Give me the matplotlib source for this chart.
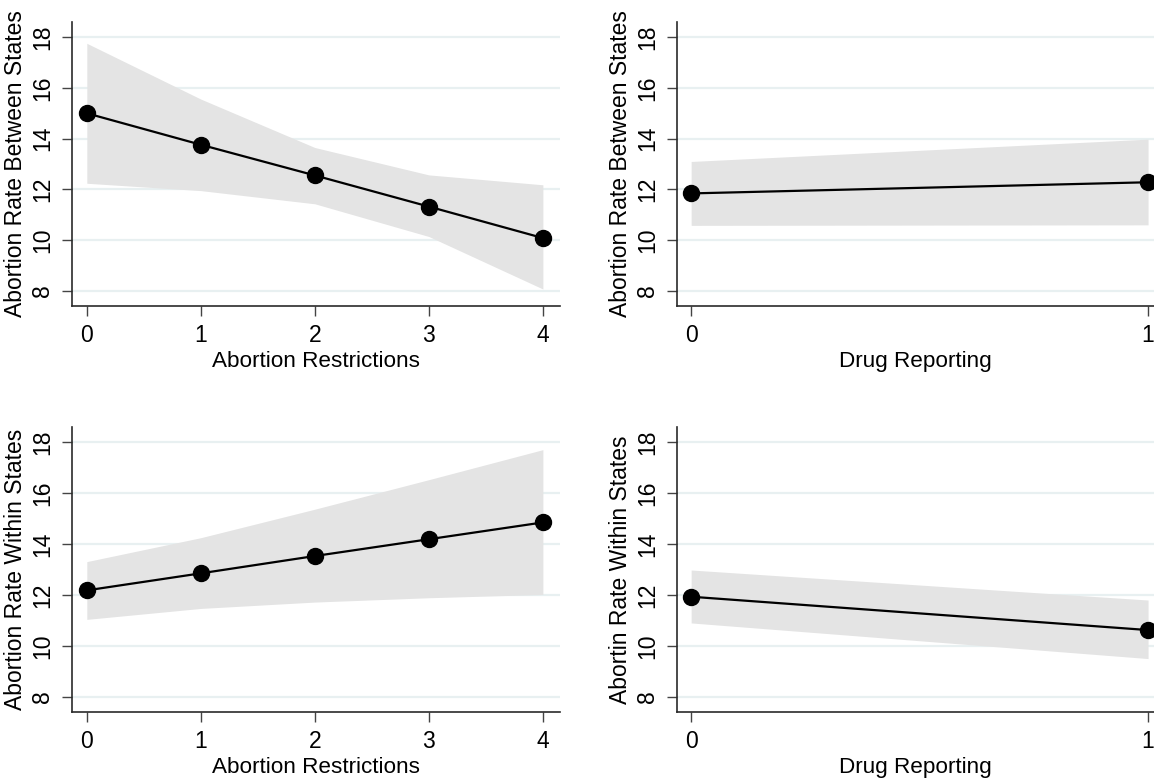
import matplotlib
matplotlib.use("Agg")
import matplotlib.pyplot as plt

plt.rcParams['font.family'] = ['Liberation Sans', 'DejaVu Sans']

# ---- data ----
restr_x = [0, 1, 2, 3, 4]
drug_x = [0, 1]

between_restr = [15.0, 13.76, 12.55, 11.32, 10.08]
between_restr_hi = [17.76, 15.56, 13.65, 12.57, 12.18]
between_restr_lo = [12.24, 11.95, 11.43, 10.14, 8.07]

between_drug = [11.84, 12.28]
between_drug_hi = [13.10, 13.98]
between_drug_lo = [10.58, 10.60]

within_restr = [12.18, 12.85, 13.53, 14.19, 14.85]
within_restr_hi = [13.31, 14.25, 15.37, 16.53, 17.71]
within_restr_lo = [11.04, 11.47, 11.72, 11.89, 12.02]

within_drug = [11.93, 10.62]
within_drug_hi = [12.98, 11.80]
within_drug_lo = [10.90, 9.50]

y_ticks = [8, 10, 12, 14, 16, 18]
x_label_restr = "Abortion Restrictions"
x_label_drug = "Drug Reporting"
y_label_between = "Abortion Rate Between States"
y_label_within = "Abortion Rate Within States"
y_label_within_drug = "Abortin Rate Within States"

W, H = 1154, 780
fig = plt.figure(figsize=(W / 100, H / 100), dpi=100)

def px_axes(left, top, right, bottom):
    return fig.add_axes([left / W, 1 - bottom / H, (right - left) / W, (bottom - top) / H])

panels = [
    (px_axes(72, 22, 560, 306), restr_x, between_restr, between_restr_lo, between_restr_hi,
     x_label_restr, y_label_between, (-0.13, 4.15)),
    (px_axes(677, 22, 1154, 306), drug_x, between_drug, between_drug_lo, between_drug_hi,
     x_label_drug, y_label_between, (-0.031, 1.013)),
    (px_axes(72, 427, 560, 712), restr_x, within_restr, within_restr_lo, within_restr_hi,
     x_label_restr, y_label_within, (-0.13, 4.15)),
    (px_axes(677, 427, 1154, 712), drug_x, within_drug, within_drug_lo, within_drug_hi,
     x_label_drug, y_label_within_drug, (-0.031, 1.013)),
]

grid_col = '#e8f0f1'
fill_col = '#e4e4e4'
axis_col = '#2a2a2a'

for ax, xs, ys, lo, hi, xl, yl, xlim in panels:
    for t in y_ticks:
        ax.axhline(t, color=grid_col, lw=1.6, zorder=0)
    ax.fill_between(xs, lo, hi, color=fill_col, lw=0, zorder=1)
    ax.plot(xs, ys, color='black', lw=1.6, marker='o', markersize=11.5,
            markerfacecolor='black', markeredgecolor='black', zorder=3)
    ax.set_xlim(*xlim)
    ax.set_ylim(7.4, 18.6)
    ax.set_xticks(xs)
    ax.set_yticks(y_ticks)
    ax.set_yticklabels([str(t) for t in y_ticks], rotation=90, va='center')
    for s in ['top', 'right']:
        ax.spines[s].set_visible(False)
    for s in ['left', 'bottom']:
        ax.spines[s].set_color(axis_col)
        ax.spines[s].set_linewidth(1.2)
    ax.tick_params(axis='both', direction='out', length=7, width=1.0,
                   color='#444444', labelsize=16.5, labelcolor='black', pad=6)
    ax.set_xlabel(xl, fontsize=16.2, labelpad=3)
    ax.set_ylabel(yl, fontsize=16.5, labelpad=3)
    ax.set_facecolor('white')

fig.savefig("out.png", dpi=100)
